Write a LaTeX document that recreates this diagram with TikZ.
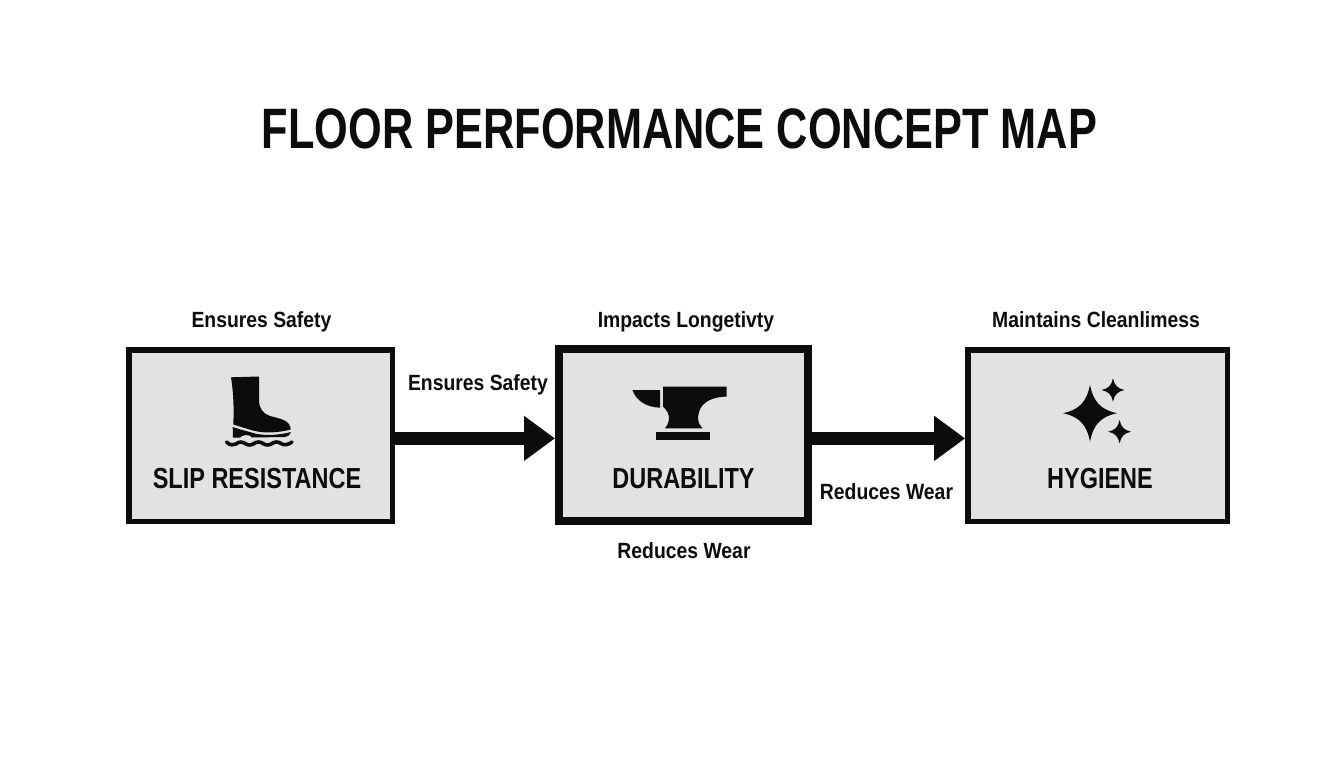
\documentclass[tikz,border=0pt]{standalone}
\usepackage{fontspec}
\usetikzlibrary{arrows.meta}
\setmainfont{Liberation Sans}
\newfontfamily\titlefont{Liberation Sans}[FakeStretch=0.76]
\newfontfamily\subfont{Liberation Sans}[FakeStretch=0.81]
\newfontfamily\labfont{Liberation Sans}[FakeStretch=0.88]
\definecolor{boxgrey}{HTML}{E1E2E2}
\definecolor{ink}{HTML}{0C0C0C}
\newcommand{\sparkleshape}{(0,-1) .. controls (.12,-.4) and (.4,-.12) .. (1,0) .. controls (.4,.12) and (.12,.4) .. (0,1) .. controls (-.12,.4) and (-.4,.12) .. (-1,0) .. controls (-.4,-.12) and (-.12,-.4) .. (0,-1) -- cycle}
\tikzset{
  box/.style={draw=ink,fill=boxgrey,inner sep=0pt,line width=5.5pt,minimum height=171.5pt},
  lab/.style={font=\labfont\fontsize{22}{24}\bfseries,text=ink,inner sep=0pt,anchor=base},
  sub/.style={font=\subfont\fontsize{29}{30}\bfseries,text=ink,inner sep=0pt,anchor=base},
  conn/.style={draw=ink,line width=13pt,-{Triangle[length=31pt,width=43pt]}},
  icon/.style={fill=ink,draw=none}
}
\begin{document}
\begin{tikzpicture}[x=1pt,y=-1pt]
\useasboundingbox (0,0) rectangle (1344,768);
\fill[white] (0,0) rectangle (1344,768);
\node[font=\titlefont\fontsize{57}{60}\bfseries,text=ink,inner sep=0pt,anchor=base] (title) at (679.5,148.3) {FLOOR PERFORMANCE CONCEPT MAP};
\node[box,minimum width=263.5pt] (slip) at (260.5,435.5) {};
\node[box,minimum width=249pt,minimum height=172pt,line width=8pt] (dur) at (683.5,435) {};
\node[box,minimum width=259.5pt] (hyg) at (1097.7,435.5) {};
\draw[conn] ([yshift=-2.9pt]slip.east) -- ([yshift=-3.4pt]dur.west);
\draw[conn] ([yshift=-3.4pt]dur.east) -- ([yshift=-2.9pt]hyg.west);
\node[sub] (t1) at (257,488) {SLIP RESISTANCE};
\node[sub] (t2) at (683.5,488) {DURABILITY};
\node[sub] (t3) at (1100,488) {HYGIENE};
\node[lab] (l1) at (261.5,327.3) {Ensures Safety};
\node[lab] (l2) at (478,390.3) {Ensures Safety};
\node[lab] (l3) at (686,327.3) {Impacts Longetivty};
\node[lab] (l4) at (684,558.3) {Reduces Wear};
\node[lab] (l5) at (886.5,499.3) {Reduces Wear};
\node[lab] (l6) at (1096,327.3) {Maintains Cleanlimess};
% boot
\fill[icon] (231,377.3) -- (259,376.5) -- (259,400) .. controls (259,408) and (263,414) .. (270,416) .. controls (281,419) and (290,420) .. (290.7,429.5) .. controls (280,432.5) and (265,433.5) .. (255,431) .. controls (247,429) and (240,426.5) .. (233.3,424.5) .. controls (234,408) and (233.5,393) .. (231,377.3) -- cycle;
\fill[icon] (232.7,427) .. controls (240,429.5) and (248,431.5) .. (255,433.5) .. controls (265,436) and (280,435) .. (291,432) .. controls (290,435) and (288,437) .. (285,437) -- (252,437.5) .. controls (251,436) and (249,435) .. (246,435) .. controls (243,435) and (241,436.5) .. (240,437.5) -- (233,437.5) -- cycle;
\draw[ink,line width=3.6pt,line cap=round] (226.5,442) .. controls (230,445.5) and (233,445.5) .. (236,444) .. controls (239,441.5) and (242,441.5) .. (245,443.5) .. controls (248,445.5) and (251,445.5) .. (254,443.5) .. controls (257,441.5) and (260,441.5) .. (263,443.5) .. controls (266,445.5) and (269,445.5) .. (272,443.5) .. controls (275,441.5) and (278,441.5) .. (281,443.5) .. controls (284,445.5) and (288,445) .. (292,442);
% anvil
\fill[icon] (632.3,390) -- (660,390) -- (660,407.7) .. controls (647,407) and (637,402) .. (632.3,390) -- cycle;
\fill[icon] (663,386.7) -- (726.7,386.7) -- (726.7,396.5) .. controls (712,397) and (702,402) .. (699,412) .. controls (697,419) and (698,424) .. (702.7,428.3) -- (665,428.3) .. controls (669,424) and (670,417) .. (668,413) .. controls (667,410) and (664,408) .. (663,406.5) -- cycle;
\fill[icon] (655.7,431.7) -- (710,431.7) -- (710,440) -- (655.7,440) -- cycle;
% sparkles
\fill[icon,shift={(1090,413.2)},xscale=27,yscale=28.5] \sparkleshape;
\fill[icon,shift={(1113,390)},xscale=11.5,yscale=11.7] \sparkleshape;
\fill[icon,shift={(1119.6,431.7)},xscale=11.5,yscale=11.7] \sparkleshape;
\end{tikzpicture}
\end{document}
